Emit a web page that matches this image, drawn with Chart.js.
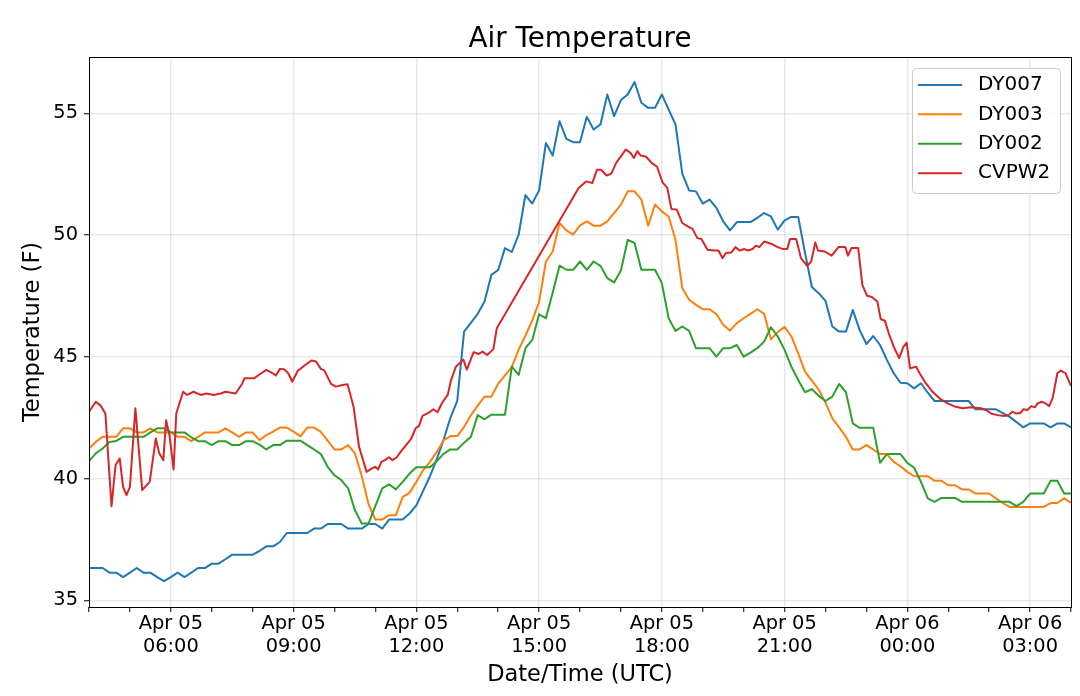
<!DOCTYPE html>
<html lang="en">
<head>
<meta charset="UTF-8">
<title>Air Temperature</title>
<script src="https://cdn.jsdelivr.net/npm/chart.js@4.4.0/dist/chart.umd.min.js"></script>
<style>
  html, body { margin: 0; padding: 0; background: #fff; }
  #wrap { width: 1080px; height: 696px; }
</style>
</head>
<body>
<div id="wrap"><canvas id="airTemp" width="1080" height="696"></canvas></div>
<script>
// readings: [minutes after Apr 05 00:00 UTC, air temperature in F]
const dy007 = [
  [240, 36.33], [260, 36.33], [270, 36.14], [280, 36.14], [290, 35.96], [300, 36.14], [310, 36.33],
  [320, 36.14], [330, 36.14], [340, 35.96], [350, 35.79], [360, 35.96], [370, 36.14], [380, 35.96],
  [390, 36.14], [400, 36.33], [410, 36.33], [420, 36.51], [430, 36.51], [440, 36.69], [450, 36.88],
  [480, 36.88], [490, 37.03], [500, 37.22], [510, 37.22], [520, 37.40], [530, 37.77], [560, 37.77],
  [570, 37.95], [580, 37.95], [590, 38.14], [610, 38.14], [620, 37.95], [640, 37.95], [650, 38.14],
  [660, 38.14], [670, 37.95], [680, 38.32], [700, 38.32], [710, 38.57], [720, 38.90], [730, 39.50],
  [740, 40.10], [750, 40.80], [760, 41.60], [770, 42.50], [780, 43.20], [790, 46.04], [800, 46.40],
  [810, 46.77], [820, 47.28], [830, 48.37], [840, 48.57], [850, 49.47], [860, 49.31], [870, 50.02],
  [880, 51.65], [890, 51.30], [900, 51.84], [910, 53.79], [920, 53.27], [930, 54.68], [940, 53.96],
  [950, 53.82], [960, 53.82], [970, 54.86], [980, 54.34], [990, 54.55], [1000, 55.78], [1010, 54.89],
  [1020, 55.55], [1030, 55.78], [1040, 56.29], [1050, 55.44], [1060, 55.23], [1070, 55.23], [1080, 55.78],
  [1090, 55.16], [1100, 54.55], [1110, 52.53], [1120, 51.84], [1130, 51.80], [1140, 51.30], [1150, 51.46],
  [1160, 51.12], [1170, 50.57], [1180, 50.20], [1190, 50.54], [1200, 50.54], [1210, 50.54], [1220, 50.71],
  [1230, 50.91], [1240, 50.77], [1250, 50.23], [1260, 50.61], [1270, 50.75], [1280, 50.75], [1290, 49.27],
  [1300, 47.87], [1310, 47.62], [1320, 47.30], [1330, 46.25], [1340, 46.04], [1350, 46.04], [1360, 46.93],
  [1370, 46.11], [1380, 45.53], [1390, 45.86], [1400, 45.49], [1410, 44.88], [1420, 44.33], [1430, 43.94],
  [1440, 43.92], [1450, 43.71], [1460, 43.92], [1470, 43.53], [1480, 43.19], [1530, 43.19], [1540, 42.85],
  [1570, 42.85], [1590, 42.54], [1610, 42.11], [1620, 42.27], [1640, 42.27], [1650, 42.11], [1660, 42.27],
  [1670, 42.27], [1680, 42.11]
];
const dy003 = [
  [240, 41.24], [250, 41.51], [260, 41.72], [280, 41.72], [290, 42.07], [300, 42.07], [310, 41.90],
  [320, 41.90], [330, 42.07], [340, 41.90], [360, 41.90], [370, 41.72], [380, 41.72], [390, 41.54],
  [400, 41.72], [410, 41.90], [430, 41.90], [440, 42.07], [450, 41.90], [460, 41.72], [470, 41.90],
  [480, 41.90], [490, 41.58], [500, 41.79], [510, 41.93], [520, 42.10], [530, 42.10], [540, 41.93],
  [550, 41.74], [560, 42.10], [570, 42.10], [580, 41.92], [590, 41.56], [600, 41.20], [610, 41.20],
  [620, 41.38], [630, 41.04], [640, 40.10], [650, 38.95], [660, 38.32], [670, 38.32], [680, 38.50],
  [690, 38.50], [700, 39.25], [710, 39.42], [720, 39.87], [730, 40.35], [740, 40.69], [750, 41.10],
  [760, 41.58], [770, 41.75], [780, 41.75], [790, 42.13], [800, 42.61], [810, 43.00], [820, 43.37],
  [830, 43.37], [840, 43.90], [860, 44.58], [870, 45.30], [880, 45.87], [890, 46.50], [900, 47.25],
  [910, 48.92], [920, 49.33], [930, 50.50], [940, 50.20], [950, 50.02], [960, 50.40], [970, 50.57],
  [980, 50.39], [990, 50.39], [1000, 50.57], [1010, 50.91], [1020, 51.26], [1030, 51.80], [1040, 51.80],
  [1050, 51.46], [1060, 50.39], [1070, 51.26], [1080, 50.98], [1090, 50.77], [1100, 49.81], [1110, 47.83],
  [1120, 47.35], [1130, 47.14], [1140, 46.96], [1150, 46.96], [1160, 46.76], [1170, 46.32], [1180, 46.08],
  [1190, 46.39], [1200, 46.59], [1210, 46.77], [1220, 46.96], [1230, 46.77], [1240, 45.72], [1250, 46.02],
  [1260, 46.24], [1270, 45.84], [1280, 45.15], [1290, 44.40], [1300, 44.03], [1310, 43.66], [1320, 43.12],
  [1330, 42.48], [1340, 42.11], [1350, 41.72], [1360, 41.20], [1370, 41.20], [1380, 41.38], [1390, 41.20],
  [1400, 41.01], [1410, 41.01], [1420, 40.69], [1430, 40.51], [1440, 40.28], [1450, 40.10], [1470, 40.10],
  [1480, 39.91], [1490, 39.91], [1500, 39.73], [1510, 39.73], [1520, 39.56], [1530, 39.56], [1540, 39.39],
  [1560, 39.39], [1570, 39.19], [1580, 39.00], [1590, 38.84], [1640, 38.84], [1650, 39.00], [1660, 39.00],
  [1670, 39.19], [1680, 39.00]
];
const dy002 = [
  [240, 40.72], [250, 41.04], [260, 41.24], [270, 41.51], [280, 41.55], [290, 41.72], [320, 41.72],
  [330, 41.90], [340, 42.07], [350, 42.07], [360, 41.90], [380, 41.90], [390, 41.70], [400, 41.54],
  [410, 41.54], [420, 41.38], [430, 41.54], [440, 41.54], [450, 41.38], [460, 41.38], [470, 41.54],
  [480, 41.54], [490, 41.40], [500, 41.20], [510, 41.38], [520, 41.38], [530, 41.56], [550, 41.56],
  [560, 41.38], [570, 41.20], [580, 41.01], [590, 40.49], [600, 40.14], [610, 39.94], [620, 39.60],
  [630, 38.70], [640, 38.16], [650, 38.16], [670, 39.60], [680, 39.77], [690, 39.56], [700, 39.87],
  [710, 40.21], [720, 40.47], [740, 40.47], [750, 40.72], [760, 41.02], [770, 41.20], [780, 41.20],
  [790, 41.48], [800, 41.72], [810, 42.61], [820, 42.44], [830, 42.63], [850, 42.63], [860, 44.60],
  [870, 44.26], [880, 45.36], [890, 45.70], [900, 46.75], [910, 46.59], [920, 47.65], [930, 48.75],
  [940, 48.58], [950, 48.58], [960, 48.92], [970, 48.58], [980, 48.92], [990, 48.74], [1000, 48.24],
  [1010, 48.06], [1020, 48.55], [1030, 49.81], [1040, 49.68], [1050, 48.58], [1070, 48.58], [1080, 48.03],
  [1090, 46.59], [1100, 46.07], [1110, 46.25], [1120, 46.07], [1130, 45.36], [1150, 45.36], [1160, 45.01],
  [1170, 45.36], [1180, 45.36], [1190, 45.49], [1200, 45.01], [1210, 45.18], [1220, 45.36], [1230, 45.63],
  [1240, 46.22], [1250, 45.84], [1260, 45.29], [1270, 44.60], [1280, 44.05], [1290, 43.55], [1300, 43.68],
  [1310, 43.40], [1320, 43.19], [1330, 43.37], [1340, 43.89], [1350, 43.55], [1360, 42.27], [1370, 42.09],
  [1390, 42.09], [1400, 40.65], [1410, 41.01], [1430, 41.01], [1440, 40.65], [1450, 40.45], [1460, 39.87],
  [1470, 39.19], [1480, 39.05], [1490, 39.21], [1510, 39.21], [1520, 39.05], [1590, 39.05], [1600, 38.87],
  [1610, 39.05], [1620, 39.39], [1640, 39.39], [1650, 39.91], [1660, 39.91], [1670, 39.39], [1680, 39.39]
];
const cvpw2 = [
  [240, 42.75], [250, 43.16], [257, 43.00], [264, 42.68], [273, 38.87], [279, 40.56], [285, 40.83],
  [290, 39.66], [295, 39.32], [300, 39.66], [308, 42.89], [318, 39.53], [329, 39.87], [338, 41.65],
  [343, 41.04], [349, 40.76], [353, 42.40], [358, 41.79], [364, 40.38], [368, 42.68], [378, 43.57],
  [384, 43.44], [393, 43.57], [404, 43.44], [412, 43.50], [423, 43.44], [433, 43.50], [440, 43.57],
  [455, 43.50], [465, 43.92], [468, 44.12], [482, 44.12], [490, 44.28], [500, 44.47], [507, 44.37],
  [514, 44.24], [520, 44.51], [526, 44.49], [532, 44.34], [538, 43.98], [546, 44.42], [556, 44.65],
  [566, 44.85], [573, 44.81], [580, 44.51], [585, 44.45], [595, 43.89], [602, 43.78], [612, 43.85],
  [619, 43.88], [628, 42.95], [636, 41.31], [647, 40.28], [655, 40.42], [660, 40.49], [664, 40.38],
  [669, 40.70], [674, 40.76], [680, 40.88], [685, 40.76], [691, 40.87], [697, 41.10], [705, 41.38],
  [712, 41.62], [719, 42.07], [724, 42.17], [729, 42.58], [739, 42.72], [745, 42.85], [751, 42.73],
  [758, 43.12], [766, 43.44], [771, 44.05], [778, 44.60], [789, 44.89], [794, 44.48], [804, 45.20],
  [811, 45.12], [817, 45.22], [824, 45.08], [833, 45.32], [838, 46.18], [958, 51.94], [969, 52.21],
  [978, 52.14], [985, 52.69], [991, 52.69], [999, 52.45], [1006, 52.53], [1013, 52.97], [1020, 53.24],
  [1027, 53.52], [1034, 53.38], [1039, 53.17], [1044, 53.45], [1049, 53.27], [1057, 53.22], [1065, 52.97],
  [1073, 52.81], [1081, 52.17], [1088, 51.94], [1094, 51.08], [1102, 51.05], [1110, 50.50], [1118, 50.36],
  [1125, 50.26], [1132, 49.88], [1138, 49.84], [1147, 49.40], [1157, 49.37], [1163, 49.37], [1169, 49.06],
  [1174, 49.27], [1182, 49.29], [1188, 49.51], [1194, 49.37], [1201, 49.43], [1206, 49.37], [1213, 49.43],
  [1218, 49.57], [1223, 49.51], [1230, 49.74], [1240, 49.65], [1250, 49.51], [1258, 49.43], [1264, 49.43],
  [1268, 49.84], [1277, 49.84], [1284, 49.06], [1293, 48.74], [1299, 48.92], [1305, 49.70], [1309, 49.37],
  [1319, 49.33], [1329, 49.16], [1339, 49.51], [1349, 49.51], [1353, 49.16], [1358, 49.47], [1368, 49.47],
  [1374, 47.96], [1381, 47.51], [1388, 47.46], [1396, 47.28], [1401, 46.55], [1407, 46.49], [1413, 45.95],
  [1420, 45.42], [1428, 44.95], [1434, 45.40], [1439, 45.59], [1444, 44.53], [1453, 44.60], [1458, 44.33],
  [1467, 43.92], [1477, 43.57], [1487, 43.30], [1499, 43.09], [1511, 42.95], [1521, 42.89], [1533, 42.93],
  [1548, 42.89], [1555, 42.82], [1563, 42.68], [1572, 42.61], [1582, 42.57], [1589, 42.62], [1594, 42.75],
  [1599, 42.68], [1606, 42.70], [1610, 42.85], [1616, 42.82], [1622, 42.98], [1627, 42.93], [1631, 43.09],
  [1637, 43.16], [1643, 43.09], [1648, 42.98], [1653, 43.30], [1660, 44.33], [1665, 44.44], [1672, 44.33],
  [1680, 43.81]
];

const seriesNames = ["DY007", "DY003", "DY002", "CVPW2"];
const seriesColors = ["#1f77b4", "#ff7f0e", "#2ca02c", "#d62728"];
// hourly tick marks, labelled every 3 hours (hours after Apr 05 00:00)
const xTickHours = [4, 5, 6, 7, 8, 9, 10, 11, 12, 13, 14, 15, 16, 17, 18, 19, 20, 21, 22, 23, 24, 25, 26, 27, 28];
const yTickValues = [35, 40, 45, 50, 55];

const FONT = "'DejaVu Sans', sans-serif";
Chart.defaults.font.family = FONT;
Chart.defaults.color = "#000";

function toPoints(rows) {
    return rows.map(r => ({ x: r[0] / 60, y: r[1] }));
}

// black box round the plot like matplotlib spines
const frame = {
    id: "frame",
    afterDatasetsDraw(chart) {
        const a = chart.chartArea;
        const ctx = chart.ctx;
        ctx.save();
        ctx.strokeStyle = "#000";
        ctx.lineWidth = 1;
        ctx.strokeRect(Math.round(a.left) + 0.5, Math.round(a.top) + 0.5,
                       Math.round(a.right - a.left), Math.round(a.bottom - a.top));
        ctx.restore();
    }
};

// legend box in the upper right corner of the plot
const boxLegend = {
    id: "boxLegend",
    afterDraw(chart) {
        const a = chart.chartArea;
        const ctx = chart.ctx;
        const x0 = a.right - 159, y0 = a.top + 11, w = 148, h = 125;
        ctx.save();
        ctx.beginPath();
        ctx.roundRect(x0 + 0.5, y0 + 0.5, w, h, 4);
        ctx.fillStyle = "rgba(255,255,255,0.8)";
        ctx.fill();
        ctx.strokeStyle = "#cccccc";
        ctx.lineWidth = 1;
        ctx.stroke();
        ctx.font = "20px " + FONT;
        ctx.textBaseline = "middle";
        ctx.textAlign = "left";
        chart.data.datasets.forEach((ds, i) => {
            const y = y0 + 17 + i * 29.4;
            ctx.strokeStyle = ds.borderColor;
            ctx.lineWidth = 2;
            ctx.beginPath();
            ctx.moveTo(x0 + 6, y);
            ctx.lineTo(x0 + 50, y);
            ctx.stroke();
            ctx.fillStyle = "#000";
            ctx.fillText(ds.label, x0 + 66, y);
        });
        ctx.restore();
    }
};

const readings = [dy007, dy003, dy002, cvpw2];
const datasets = readings.map((rows, i) => ({
    label: seriesNames[i],
    data: toPoints(rows),
    borderColor: seriesColors[i],
    backgroundColor: seriesColors[i],
    borderWidth: 2,
    pointRadius: 0,
    fill: false,
    tension: 0,
    borderJoinStyle: "round",
    order: readings.length - i
}));

const ctx = document.getElementById("airTemp").getContext("2d");
const airChart = new Chart(ctx, {
    type: "line",
    data: { datasets: datasets },
    options: {
        responsive: false,
        animation: false,
        events: [],
        layout: { padding: { left: 0, right: 9, top: 0, bottom: 0 } },
        plugins: {
            legend: { display: false },
            tooltip: { enabled: false },
            title: {
                display: true,
                text: "Air Temperature",
                fullSize: false,
                color: "#000",
                font: { size: 27.8, weight: "normal", lineHeight: 1.2 },
                padding: { top: 22.8, bottom: 0.8 }
            }
        },
        scales: {
            x: {
                type: "linear",
                min: 4,
                max: 28,
                afterBuildTicks(scale) {
                    scale.ticks = xTickHours.map(v => ({ value: v }));
                },
                afterFit(scale) { scale.height = 89; },
                border: { display: false },
                grid: {
                    color: c => (c.tick && c.tick.value % 3 === 0) ? "rgba(0,0,0,0.09)" : "rgba(0,0,0,0)",
                    lineWidth: 1.5,
                    tickColor: "#000",
                    tickWidth: 1,
                    tickLength: 5
                },
                ticks: {
                    autoSkip: false,
                    maxRotation: 0,
                    minRotation: 0,
                    padding: 0,
                    color: "#000",
                    font: { size: 19.4, lineHeight: 1.2 },
                    callback(value) {
                        if (value % 3 !== 0) return "";
                        const day = value < 24 ? "Apr 05" : "Apr 06";
                        const hh = String(value % 24).padStart(2, "0");
                        return [day, hh + ":00"];
                    }
                },
                title: {
                    display: true,
                    text: "Date/Time (UTC)",
                    color: "#000",
                    font: { size: 22.5, lineHeight: 1.2 },
                    padding: { top: 0, bottom: 7.5 }
                }
            },
            y: {
                type: "linear",
                min: 34.73,
                max: 57.32,
                afterBuildTicks(scale) {
                    scale.ticks = yTickValues.map(v => ({ value: v }));
                },
                afterFit(scale) { scale.width = 89; },
                border: { display: false },
                grid: {
                    color: "rgba(0,0,0,0.09)",
                    lineWidth: 1.5,
                    tickColor: "#000",
                    tickWidth: 1,
                    tickLength: 5
                },
                ticks: {
                    padding: 6,
                    color: "#000",
                    font: { size: 19.4 },
                    callback: value => String(value)
                },
                title: {
                    display: true,
                    text: "Temperature (F)",
                    color: "#000",
                    font: { size: 22.5, lineHeight: 1.2 },
                    padding: { top: 20, bottom: 0 }
                }
            }
        }
    },
    plugins: [frame, boxLegend]
});
</script>
</body>
</html>
